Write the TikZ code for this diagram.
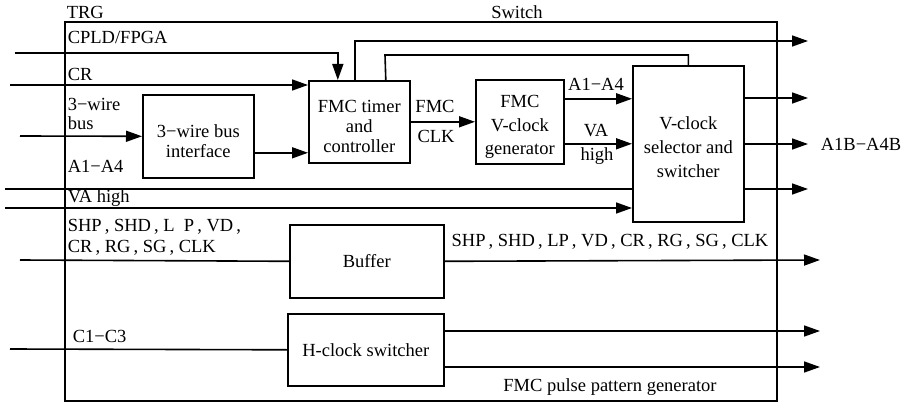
\documentclass[tikz,border=0pt]{standalone}
\usepackage{fontspec}
\setmainfont{Liberation Serif}
\usetikzlibrary{arrows.meta}
\newcommand{\topgap}[1]{\rule{0pt}{#1}}
\begin{document}
\begin{tikzpicture}[x=1pt,y=-1pt,
  line width=1.6pt,
  font=\fontsize{18.5}{20}\selectfont,
  box/.style={draw, anchor=north west, inner sep=0pt, align=center},
  lbl/.style={inner sep=0pt, align=left},
  arr/.style={-{Triangle[length=16pt,width=11pt]}}]
\useasboundingbox (0,0) rectangle (904,403);
% outer frame
\node[box, minimum width=712pt, minimum height=379pt] (outer) at (64,21) {};
% blocks
\node[box, minimum width=101pt, minimum height=82pt] (timer) at (308,80) {\topgap{21pt}FMC timer\\and\\controller};
\node[box, minimum width=111pt, minimum height=83pt] (bus) at (142,94) {\topgap{23pt}3−wire bus\\interface};
\node[box, minimum width=88pt, minimum height=84pt,
      font=\fontsize{18.5}{23.5}\selectfont] (vgen) at (475,79) {\topgap{23pt}FMC\\V-clock\\generator};
\node[box, minimum width=111pt, minimum height=156pt,
      font=\fontsize{18.5}{24}\selectfont] (vsel) at (632,65) {\topgap{19pt}V-clock\\selector and\\switcher};
\node[box, minimum width=154pt, minimum height=73pt] (buf) at (289,224) {Buffer};
\node[box, minimum width=156pt, minimum height=72pt] (hclk) at (287,313) {H-clock switcher};
% free ends
\coordinate (cpin) at (15,53);
\coordinate (crin) at (10,85);
\coordinate (wirein) at (20,136);
\coordinate (ain) at (5,189);
\coordinate (vain) at (5,208);
\coordinate (shpin) at (20,260);
\coordinate (cin) at (10,349);
\coordinate (out1) at (808,41);
\coordinate (turn2) at (385,55);
\coordinate (oA) at (808,98);
\coordinate (oB) at (808,144);
\coordinate (oC) at (808,189);
\coordinate (oD) at (820,260);
\coordinate (oE) at (820,331);
\coordinate (oF) at (820,367);
% connectors
\draw[arr] (cpin) -| ([xshift=-21.5pt]timer.north);
\draw[arr] (crin) -- (crin -| timer.west);
\draw[arr] (wirein) -- (bus.west);
\draw[arr] ([yshift=-16.5pt]bus.east) -- ([yshift=-16.5pt]bus.east -| timer.west);
\draw[arr] ([xshift=-4.5pt]timer.north) |- (out1);
\draw ([xshift=26.5pt]timer.north) -- (turn2) -| (vsel.north);
\draw[arr] (timer.east) -- (vgen.west);
\draw[arr] ([yshift=23pt]vgen.east) -- ([yshift=23pt]vgen.east -| vsel.west);
\draw[arr] ([yshift=-22pt]vgen.east) -- ([yshift=-22pt]vgen.east -| vsel.west);
\draw (ain) -- (ain -| vsel.west);
\draw[arr] (vain) -- (vain -| vsel.west);
\draw[arr] (oA -| vsel.east) -- (oA);
\draw[arr] (oB -| vsel.east) -- (oB);
\draw[arr] (oC -| vsel.east) -- (oC);
\draw (shpin) -- (buf.west);
\draw[arr] (buf.east) -- (oD);
\draw (cin) -- (hclk.west);
\draw[arr] (oE -| hclk.east) -- (oE);
\draw[arr] (oF -| hclk.east) -- (oF);
% labels
\node[lbl, anchor=base west] (ltrg) at (66,19) {TRG};
\node[lbl, anchor=base] (lsw) at (517,19) {Switch};
\node[lbl, anchor=base west] (lcp) at (67,44) {CPLD/FPGA};
\node[lbl, anchor=base west] (lcr) at (67,81) {CR};
\node[lbl, anchor=base west] (lw1) at (67,111) {3−wire};
\node[lbl, anchor=base west] (lw2) at (67,130) {bus};
\node[lbl, anchor=base west] (la) at (67,173) {A1−A4};
\node[lbl, anchor=base west] (lva) at (67,203) {VA high};
\node[lbl, anchor=base west] (lshp1) at (67,232) {SHP\,, SHD\,, L\enspace P\,, VD\,,};
\node[lbl, anchor=base west] (lshp2) at (67,253) {CR\,, RG\,, SG\,, CLK};
\node[lbl, anchor=base] (lshpo) at (610,247) {SHP\,, SHD\,, LP\,, VD\,, CR\,, RG\,, SG\,, CLK};
\node[lbl, anchor=base west] (lc) at (72,342) {C1−C3};
\node[lbl, anchor=base] (lpat) at (610,391) {FMC pulse pattern generator};
\node[lbl, anchor=base] (lfmc) at (435,113) {FMC};
\node[lbl, anchor=base] (lclk) at (436,143) {CLK};
\node[lbl, anchor=base] (la2) at (596,91) {A1−A4};
\node[lbl, anchor=base] (lva2) at (596,137) {VA};
\node[lbl, anchor=base] (lhigh) at (597,161) {high};
\node[lbl, anchor=base west] (lab) at (820,151) {A1B−A4B};
\end{tikzpicture}
\end{document}
